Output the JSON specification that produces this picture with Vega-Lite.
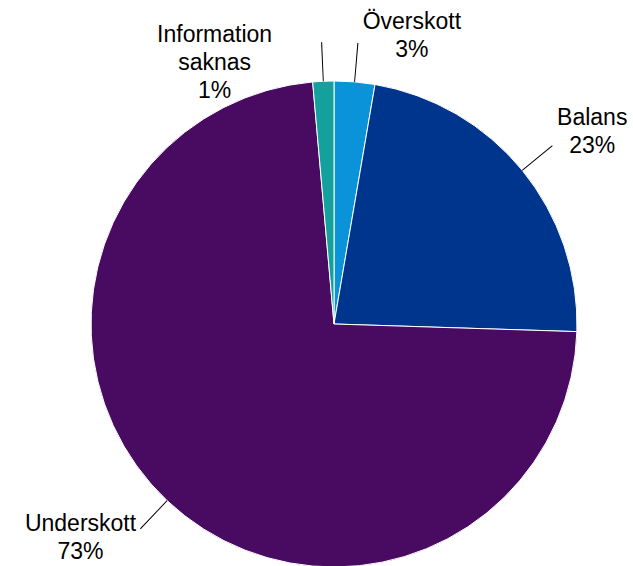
{
  "$schema": "https://vega.github.io/schema/vega-lite/v6.json",
  "width": 486,
  "height": 486,
  "autosize": "none",
  "padding": {"left": 91, "top": 81, "right": 56, "bottom": 0},
  "background": "white",
  "data": {
    "values": [
      {"name": "Överskott", "ord": 1, "value": 2.7},
      {"name": "Balans", "ord": 2, "value": 22.8},
      {"name": "Underskott", "ord": 3, "value": 73.1},
      {"name": "Information saknas", "ord": 4, "value": 1.4}
    ]
  },
  "transform": [
    {"window": [{"op": "sum", "field": "value", "as": "cum"}], "sort": [{"field": "ord"}], "frame": [null, 0]},
    {"calculate": "datum.cum - datum.value", "as": "start"},
    {"calculate": "datum.cum - datum.value / 2", "as": "mid"},
    {"calculate": "datum.mid - 0.03", "as": "la"},
    {"calculate": "datum.mid + 0.03", "as": "lb"},
    {"calculate": "split((datum.name == 'Information saknas' ? 'Information|saknas' : datum.name) + '|' + format(datum.value, '.0f') + '%', '|')", "as": "label"}
  ],
  "layer": [
    {
      "mark": {"type": "arc", "outerRadius": 243, "stroke": "white", "strokeWidth": 1},
      "encoding": {
        "theta": {"field": "start", "type": "quantitative", "scale": {"domain": [0, 100], "range": [0, 6.283185307]}},
        "theta2": {"field": "cum"},
        "color": {
          "field": "name",
          "type": "nominal",
          "scale": {
            "domain": ["Överskott", "Balans", "Underskott", "Information saknas"],
            "range": ["#0A93D9", "#00358D", "#490A61", "#14A09C"]
          },
          "legend": null
        }
      }
    },
    {
      "mark": {"type": "arc", "outerRadius": 282, "innerRadius": 243, "fill": "black"},
      "encoding": {
        "theta": {"field": "la", "type": "quantitative", "scale": {"domain": [0, 100], "range": [0, 6.283185307]}},
        "theta2": {"field": "lb"}
      }
    },
    {
      "mark": {
        "type": "text",
        "radius": 305,
        "font": "Liberation Sans",
        "fontSize": 23,
        "lineHeight": 28,
        "align": "center",
        "baseline": "middle",
        "color": "black",
        "dx": {"expr": "datum.name == 'Överskott' ? 52 : datum.name == 'Balans' ? 22 : datum.name == 'Underskott' ? -44 : -106"},
        "dy": {"expr": "datum.name == 'Överskott' ? 2 : datum.name == 'Balans' ? -13 : datum.name == 'Underskott' ? -22 : 16"}
      },
      "encoding": {
        "theta": {"field": "mid", "type": "quantitative", "stack": null, "scale": {"domain": [0, 100], "range": [0, 6.283185307]}},
        "text": {"field": "label"}
      }
    }
  ]
}
